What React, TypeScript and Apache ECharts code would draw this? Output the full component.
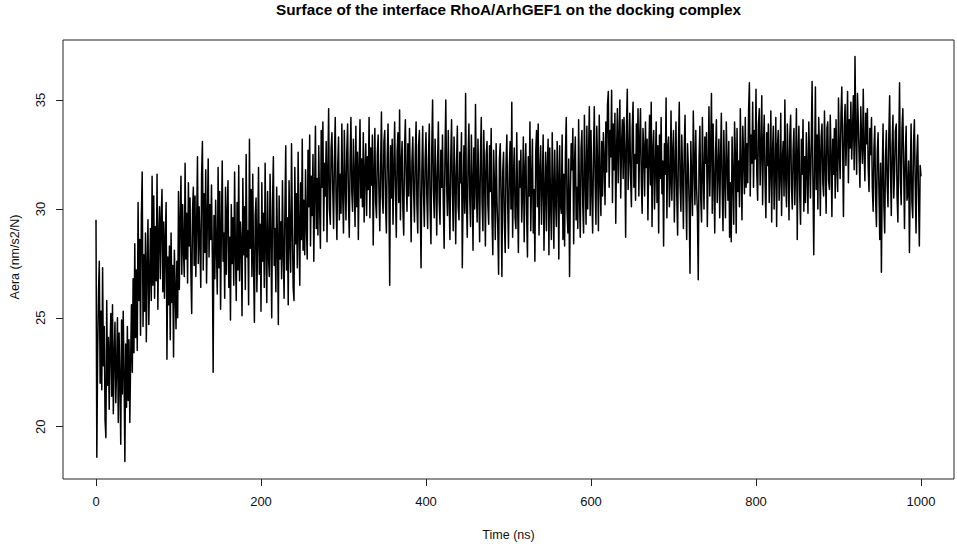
import React, { useEffect, useRef } from "react";
import * as echarts from "echarts";

const chartTitle = "Surface of the interface RhoA/ArhGEF1 on the docking complex";
const xName = "Time (ns)";
const yName = "Aera (nm/s2/N)";
const xTicks = [0, 200, 400, 600, 800, 1000];
const yTicks = [20, 25, 30, 35];
const sampleStepNs = 1;

// Area values, one every 1 ns. 0-99 ns
const seg0 = [
  29.5, 18.6, 23.4, 26.1, 27.6, 22.0, 25.3, 21.7, 27.3, 22.8,
  24.6, 20.3, 19.5, 25.8, 21.9, 24.1, 20.8, 23.7, 25.2, 21.4,
  25.6, 20.6, 23.2, 24.8, 21.1, 22.7, 25.0, 20.2, 24.3, 22.1,
  19.2, 24.9, 21.5, 25.3, 22.4, 18.4, 23.8, 20.9, 24.6, 21.2,
  24.0, 20.2, 23.1, 25.6, 22.5, 26.8, 23.4, 28.4, 24.1, 27.2,
  23.5, 30.3, 25.8, 28.6, 24.2, 29.7, 31.7, 24.6, 27.9, 25.3,
  28.9, 23.9, 27.4, 29.5, 24.7, 26.8, 29.1, 25.8, 31.5, 26.5,
  30.6, 25.9, 29.2, 26.7, 31.6, 25.4, 28.8, 30.1, 26.8, 29.6,
  30.9, 26.2, 29.4, 25.9, 28.7, 30.3, 23.1, 27.8, 25.6, 28.3,
  24.0, 28.9, 25.7, 27.4, 23.2, 28.1, 26.3, 24.5, 27.6, 25.0,
];
// 100-199 ns
const seg1 = [
  30.8, 26.3, 29.4, 31.5, 27.0, 30.2, 28.1, 26.9, 32.1, 27.7,
  29.8, 26.6, 31.2, 28.3, 30.5, 27.1, 25.2, 29.9, 31.0, 27.4,
  30.6, 26.9, 29.3, 32.4, 27.5, 30.1, 28.4, 26.4, 31.6, 33.1,
  27.2, 30.7, 28.0, 31.8, 26.6, 29.5, 32.3, 27.8, 30.2, 28.6,
  31.1, 27.9, 22.5, 29.7, 26.8, 30.4, 28.2, 26.1, 31.9, 27.3,
  30.8, 25.4, 29.1, 32.2, 27.6, 28.9, 25.9, 31.0, 27.0, 29.8,
  31.3, 26.4, 28.7, 24.9, 30.2, 27.5, 29.6, 26.5, 31.7, 28.0,
  25.8, 30.3, 27.2, 32.0, 26.7, 29.4, 28.5, 25.1, 31.4, 27.9,
  30.1, 26.3, 32.5, 27.8, 29.0, 25.6, 33.2, 28.2, 30.9, 26.9,
  31.6, 27.4, 24.8, 29.7, 30.5, 26.2, 28.6, 31.9, 27.0, 29.3,
];
// 200-299 ns
const seg2 = [
  25.3, 31.2, 27.6, 29.8, 26.4, 32.1, 28.3, 25.7, 30.8, 27.9,
  26.9, 31.6, 28.8, 25.0, 30.3, 32.4, 27.4, 29.1, 26.2, 31.0,
  28.5, 24.7, 30.6, 27.7, 29.4, 26.8, 31.3, 28.0, 25.9, 30.0,
  32.9, 27.2, 29.6, 25.6, 31.3, 28.7, 27.1, 33.0, 29.2, 26.4,
  25.8, 31.9, 28.4, 30.7, 27.3, 32.6, 29.0, 26.5, 31.2, 28.6,
  33.2, 28.1, 30.4, 27.9, 31.8, 29.3, 27.7, 32.7, 30.1, 33.4,
  28.3, 31.5, 29.7, 32.5, 27.6, 30.8, 33.8, 29.1, 31.4, 28.8,
  32.9, 30.2, 28.2, 33.6, 31.0, 34.0, 29.0, 32.1, 30.6, 33.1,
  28.5, 31.7, 34.6, 30.0, 29.3, 32.8, 33.5, 30.9, 29.1, 32.3,
  34.2, 30.4, 28.6, 32.0, 33.3, 29.5, 31.6, 29.8, 33.9, 30.7,
];
// 300-399 ns
const seg3 = [
  28.9, 33.6, 31.2, 29.5, 32.7, 33.9, 30.4, 28.7, 32.2, 34.2,
  30.8, 29.9, 33.2, 31.5, 29.2, 33.8, 30.1, 32.6, 28.6, 31.9,
  34.1, 30.5, 32.3, 30.1, 33.5, 29.4, 31.7, 33.0, 29.7, 32.4,
  30.9, 34.2, 29.6, 32.8, 31.1, 33.4, 28.35, 31.6, 33.7, 30.3,
  29.6, 32.5, 33.4, 30.7, 29.0, 32.0, 34.45, 30.6, 29.8, 33.1,
  33.6, 30.2, 28.9, 32.4, 33.9, 31.0, 26.5, 32.9, 30.5, 33.2,
  29.3, 31.8, 34.0, 30.9, 28.7, 32.6, 33.5, 30.3, 34.55, 29.5,
  32.1, 33.1, 30.0, 28.8, 32.7, 34.1, 31.3, 29.9, 33.0, 30.6,
  33.7, 31.4, 28.5, 32.2, 33.3, 30.8, 29.4, 32.5, 34.0, 30.2,
  28.9, 32.9, 33.6, 30.4, 27.3, 31.8, 33.8, 30.7, 29.2, 32.3,
];
// 400-499 ns
const seg4 = [
  33.5, 30.6, 29.1, 32.4, 33.9, 30.0, 28.4, 32.8, 35.0, 30.9,
  29.6, 33.2, 31.4, 28.8, 32.1, 34.0, 30.3, 29.3, 32.7, 31.0,
  33.4, 30.2, 28.2, 32.5, 35.0, 31.1, 29.7, 33.6, 30.5, 28.6,
  32.3, 34.1, 30.8, 29.0, 33.3, 31.5, 28.4, 32.0, 33.8, 30.1,
  29.5, 32.6, 31.2, 33.5, 27.3, 30.7, 32.9, 29.8, 35.3, 30.4,
  28.7, 32.2, 33.9, 30.6, 29.2, 33.4, 31.3, 28.1, 32.8, 30.0,
  34.8, 31.0, 29.4, 33.2, 30.9, 28.5, 32.4, 34.2, 30.3, 29.0,
  33.6, 31.6, 28.3, 32.5, 33.1, 30.2, 29.3, 32.9, 30.8, 33.7,
  29.6, 27.9, 32.7, 31.1, 28.6, 33.0, 30.4, 29.1, 27.0, 32.3,
  33.0, 30.5, 26.9, 31.7, 32.6, 29.4, 28.0, 32.1, 33.4, 30.3,
];
// 500-599 ns
const seg5 = [
  28.2, 31.9, 33.1, 30.0, 34.9, 28.7, 31.5, 32.8, 29.6, 29.1,
  33.5, 30.4, 28.0, 32.2, 31.0, 32.7, 29.4, 30.8, 33.3, 28.5,
  31.8, 33.0, 29.7, 27.8, 32.4, 30.6, 34.0, 29.0, 31.3, 33.2,
  28.9, 30.9, 27.6, 32.6, 33.6, 30.1, 33.9, 28.8, 31.7, 32.9,
  29.3, 31.2, 33.4, 28.1, 30.7, 32.6, 29.0, 31.9, 33.2, 27.9,
  32.8, 30.3, 28.6, 33.5, 31.1, 28.2, 32.7, 30.5, 29.2, 33.1,
  31.4, 27.7, 32.9, 30.2, 29.8, 33.4, 28.6, 31.6, 28.3, 32.5,
  34.2, 29.9, 28.9, 32.3, 26.9, 30.7, 33.0, 31.8, 33.7, 28.4,
  32.1, 33.3, 29.5, 31.0, 29.1, 34.1, 30.6, 28.7, 32.8, 33.6,
  30.2, 28.9, 34.3, 31.5, 29.3, 33.8, 30.0, 32.4, 34.7, 29.7,
];
// 600-699 ns
const seg6 = [
  33.6, 30.8, 28.9, 32.5, 34.7, 31.2, 29.3, 33.8, 32.0, 29.0,
  34.3, 31.4, 29.7, 33.1, 30.6, 33.5, 32.2, 30.2, 34.0, 31.7,
  34.8, 35.4, 31.0, 33.6, 32.4, 35.45, 30.3, 33.9, 31.8, 34.4,
  29.35, 32.7, 34.6, 31.2, 33.3, 35.0, 30.5, 32.9, 34.1, 31.4,
  34.2, 32.6, 28.7, 33.8, 35.5, 30.9, 32.3, 34.4, 31.5, 30.1,
  33.7, 34.9, 31.0, 32.5, 30.4, 33.9, 32.1, 34.6, 30.6, 33.2,
  34.6, 31.3, 29.8, 33.7, 32.8, 30.6, 34.0, 31.9, 33.2, 29.5,
  32.4, 34.3, 31.1, 34.9, 29.2, 32.7, 33.6, 30.0, 31.8, 34.0,
  30.3, 32.9, 28.9, 33.4, 31.4, 34.2, 30.7, 32.2, 28.3, 33.0,
  31.6, 35.1, 29.6, 32.8, 33.3, 30.1, 31.2, 34.5, 30.4, 32.6,
];
// 700-799 ns
const seg7 = [
  33.6, 29.4, 31.8, 34.0, 30.6, 28.8, 32.9, 34.9, 31.1, 29.9,
  33.4, 31.6, 29.1, 32.7, 34.3, 30.8, 28.6, 33.0, 31.9, 30.2,
  27.05, 33.1, 31.3, 29.7, 34.5, 32.2, 30.2, 33.6, 31.0, 29.8,
  26.75, 32.4, 33.8, 30.5, 29.4, 34.2, 31.7, 30.0, 33.3, 32.1,
  33.5, 29.2, 31.9, 34.7, 30.6, 32.8, 35.3, 29.8, 33.9, 31.4,
  28.9, 32.6, 34.1, 30.3, 31.8, 33.2, 29.6, 32.3, 34.4, 30.9,
  29.0, 33.6, 31.5, 29.6, 34.0, 32.0, 30.4, 33.1, 28.7, 31.2,
  28.5, 33.3, 31.4, 29.3, 34.0, 32.5, 28.9, 33.7, 30.8, 32.2,
  30.1, 34.6, 31.9, 29.5, 33.8, 32.4, 30.7, 34.2, 31.0, 33.0,
  31.2, 34.5, 35.8, 30.6, 33.4, 32.1, 34.9, 31.0, 33.6, 32.3,
];
// 800-899 ns
const seg8 = [
  35.5, 31.6, 30.4, 33.9, 34.6, 31.1, 32.7, 35.2, 30.2, 33.0,
  34.3, 31.2, 29.6, 33.5, 32.0, 33.9, 30.3, 31.8, 34.5, 29.4,
  32.6, 33.8, 30.0, 31.7, 34.2, 29.2, 32.9, 33.6, 30.4, 31.5,
  34.4, 29.7, 32.3, 33.1, 30.6, 35.0, 31.4, 30.1, 33.9, 32.2,
  29.5, 33.4, 34.3, 31.0, 30.0, 32.7, 33.7, 30.2, 31.9, 34.6,
  28.6, 32.5, 33.8, 30.7, 29.3, 33.2, 31.6, 34.1, 29.9, 32.4,
  30.3, 33.5, 31.8, 29.8, 34.0, 32.3, 30.5, 33.1, 35.85, 31.4,
  27.9, 32.0, 35.6, 30.9, 33.4, 30.0, 34.2, 32.6, 29.7, 33.3,
  33.9, 31.2, 30.6, 34.5, 32.1, 29.8, 33.7, 34.0, 31.3, 30.9,
  34.3, 32.4, 29.65, 33.2, 31.6, 33.7, 30.5, 34.1, 32.0, 30.8,
];
// 900-1000 ns
const seg9 = [
  35.1, 32.6, 31.4, 34.3, 35.6, 32.9, 29.65, 33.8, 34.8, 32.0,
  33.5, 35.4, 31.2, 34.1, 32.8, 34.9, 32.3, 33.6, 35.2, 31.8,
  37.0, 33.3, 31.6, 35.3, 34.0, 32.4, 31.0, 34.7, 33.1, 32.1,
  35.5, 32.7, 31.3, 34.4, 33.0, 34.6, 31.9, 30.8, 33.7, 32.5,
  34.2, 31.0, 29.9, 32.8, 33.8, 30.4, 29.2, 32.6, 33.5, 30.9,
  28.6, 32.1, 27.1, 31.5, 33.9, 30.2, 28.9, 32.4, 33.6, 31.1,
  30.1, 33.4, 35.2, 31.8, 29.7, 32.9, 34.3, 30.5, 31.7, 33.6,
  33.9, 30.6, 29.4, 32.8, 35.8, 31.3, 30.2, 33.7, 34.6, 31.9,
  29.1, 32.5, 33.8, 30.4, 30.7, 32.2, 28.0, 31.6, 33.9, 30.3,
  29.6, 33.1, 34.1, 31.2, 28.9, 32.4, 33.4, 30.6, 28.3, 32.0,
  31.5,
];

const FONT = '"Liberation Sans", Arial, Helvetica, sans-serif';

export default function App() {
  const ref = useRef<HTMLDivElement>(null);
  useEffect(() => {
    if (!ref.current) return;
    const chart = echarts.init(ref.current, null, { renderer: "svg" });
    const values = [...seg0, ...seg1, ...seg2, ...seg3, ...seg4, ...seg5, ...seg6, ...seg7, ...seg8, ...seg9];
    const data = values.map((v, i) => [i * sampleStepNs, v]);
    chart.setOption({
      animation: false,
      backgroundColor: "#ffffff",
      grid: {
        left: 63,
        right: 3,
        top: 40,
        bottom: 65,
        show: true,
        borderColor: "#222",
        borderWidth: 1,
        backgroundColor: "transparent",
      },
      xAxis: {
        type: "value",
        min: -40,
        max: 1040,
        axisLine: { show: false, onZero: false },
        splitLine: { show: false },
        axisTick: { show: true, customValues: xTicks, length: 7, lineStyle: { color: "#222", width: 1 } },
        axisLabel: {
          customValues: xTicks,
          margin: 16,
          fontSize: 13,
          color: "#111",
          fontFamily: FONT,
          formatter: (v: number) => String(v),
        },
      },
      yAxis: {
        type: "value",
        min: 17.6,
        max: 37.76,
        axisLine: { show: false, onZero: false },
        splitLine: { show: false },
        axisTick: { show: true, customValues: yTicks, length: 7, lineStyle: { color: "#222", width: 1 } },
        axisLabel: {
          customValues: yTicks,
          margin: 16,
          fontSize: 13,
          color: "#111",
          fontFamily: FONT,
          rotate: 90,
          formatter: (v: number) => String(v),
        },
      },
      series: [
        {
          type: "line",
          data,
          symbol: "none",
          showSymbol: false,
          silent: true,
          lineStyle: { color: "#000", width: 1.5, join: "round" },
        },
      ],
      graphic: [
        {
          type: "text",
          x: 508.5,
          y: 9,
          style: { text: chartTitle, font: `bold 15.3px ${FONT}`, fill: "#000", textAlign: "center", textVerticalAlign: "middle" },
        },
        {
          type: "text",
          x: 508.5,
          y: 535,
          style: { text: xName, font: `12.5px ${FONT}`, fill: "#111", textAlign: "center", textVerticalAlign: "middle" },
        },
        {
          type: "text",
          x: 15,
          y: 257,
          rotation: Math.PI / 2,
          style: { text: yName, font: `12.5px ${FONT}`, fill: "#111", textAlign: "center", textVerticalAlign: "middle" },
        },
      ],
    });
    return () => chart.dispose();
  }, []);
  return <div ref={ref} style={{ position: "fixed", left: 0, top: 0, width: 957, height: 544 }} />;
}
